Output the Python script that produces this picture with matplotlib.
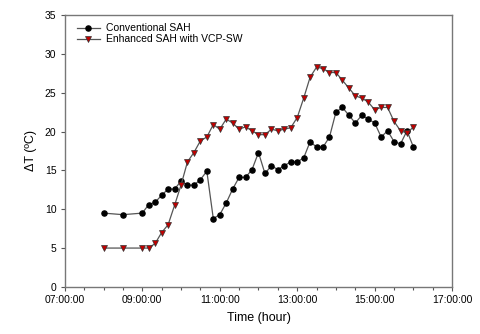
import matplotlib
matplotlib.use("Agg")
import matplotlib.pyplot as plt
from matplotlib.ticker import MultipleLocator, FuncFormatter

plt.rcParams['font.family'] = ['Liberation Sans', 'DejaVu Sans']

# sample times (hh:mm)
times = ["08:00", "08:30", "09:00", "09:10", "09:20", "09:30", "09:40", "09:50",
         "10:00", "10:10", "10:20", "10:30", "10:40", "10:50",
         "11:00", "11:10", "11:20", "11:30", "11:40", "11:50",
         "12:00", "12:10", "12:20", "12:30", "12:40", "12:50",
         "13:00", "13:10", "13:20", "13:30", "13:40", "13:50",
         "14:00", "14:10", "14:20", "14:30", "14:40", "14:50",
         "15:00", "15:10", "15:20", "15:30", "15:40", "15:50", "16:00"]

conventional = [9.5, 9.3, 9.5, 10.6, 10.9, 11.8, 12.6, 12.6,
                13.6, 13.1, 13.1, 13.8, 14.9, 8.8,
                9.3, 10.8, 12.6, 14.1, 14.1, 15.1,
                17.3, 14.6, 15.6, 15.1, 15.6, 16.1,
                16.1, 16.6, 18.7, 18.0, 18.0, 19.3,
                22.5, 23.1, 22.1, 21.1, 22.1, 21.6,
                21.1, 19.3, 20.1, 18.7, 18.4, 20.1, 18.0]

enhanced = [5.0, 5.0, 5.0, 5.0, 5.6, 7.0, 8.0, 10.5,
            13.1, 16.1, 17.3, 18.8, 19.3, 20.9,
            20.3, 21.6, 21.1, 20.3, 20.6, 20.1,
            19.6, 19.6, 20.3, 20.1, 20.3, 20.5,
            21.8, 24.3, 27.0, 28.3, 28.1, 27.6,
            27.6, 26.6, 25.6, 24.6, 24.3, 23.8,
            22.8, 23.1, 23.1, 21.3, 20.1, 19.8, 20.6]

hours = [int(t[:2]) + int(t[3:]) / 60 for t in times]

fig = plt.figure(figsize=(4.8, 3.34), dpi=100)
ax = fig.add_axes([0.135, 0.141, 0.807, 0.814])

ax.plot(hours, conventional, color='#555555', lw=0.9, marker='o', ms=3.7,
        mfc='black', mec='black', label='Conventional SAH')
ax.plot(hours, enhanced, color='#555555', lw=0.9, marker='v', ms=3.8,
        mfc='#c00000', mec='#333333', mew=0.5, label='Enhanced SAH with VCP-SW')

ax.set_xlim(7, 17)
ax.set_ylim(0, 35)
ax.set_xticks(range(7, 18, 2))
ax.xaxis.set_minor_locator(MultipleLocator(0.5))
ax.xaxis.set_major_formatter(FuncFormatter(lambda v, p: "%02d:00:00" % int(round(v))))
ax.yaxis.set_major_locator(MultipleLocator(5))

for s in ax.spines.values():
    s.set_color('#777777')
    s.set_linewidth(1.0)
ax.tick_params(which='major', length=3, width=0.8, color='#555555', labelsize=7.5, pad=3)
ax.tick_params(which='minor', length=2, width=0.8, color='#555555')

ax.set_xlabel('Time (hour)', fontsize=9, labelpad=5)
ax.set_ylabel('ΔT (ºC)', fontsize=9, labelpad=6)

ax.legend(loc='upper left', frameon=False, fontsize=7.5, handlelength=2.2,
          borderaxespad=0.4, labelspacing=0.1, handletextpad=0.6,
          bbox_to_anchor=(0.01, 1.0))

fig.savefig('out.png', dpi=100)
